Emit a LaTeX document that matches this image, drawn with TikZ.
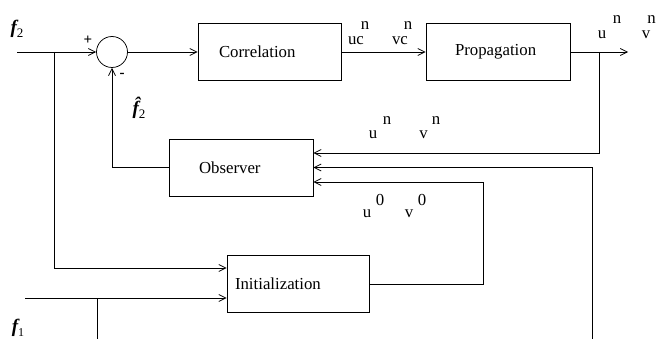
\documentclass[tikz,border=0pt]{standalone}
\usepackage{fontspec}
\setmainfont{Liberation Serif}
\usetikzlibrary{arrows.meta}
\newcommand{\sigf}{{\bfseries\itshape f}}
\newcommand{\sigfhat}{{\bfseries\itshape f^^^^0302}}
\begin{document}
\begin{tikzpicture}[x=1pt,y=-1pt, line width=0.75pt,
  font=\fontsize{16.8}{20}\selectfont,
  blk/.style={draw, minimum height=57pt, align=left},
  arr/.style={-{Straight Barb[length=7pt,width=7pt]}},
  lbl/.style={inner sep=0pt},
  sig/.style={inner sep=0pt, font=\fontsize{19}{20}\selectfont}]
\useasboundingbox (0,0) rectangle (656,339);
\clip (0,0) rectangle (656,339);

% blocks
\node[draw, circle, minimum size=31pt, inner sep=0pt] (sum) at (112,52) {};
\node[blk, inner xsep=21pt, text width=101pt] (corr) at (269.5,52) {Correlation};
\node[blk, inner xsep=29pt, text width=86pt] (prop) at (498,52) {Propagation};
\node[blk, inner xsep=30pt, text width=84pt] (obs) at (241,167.5) {Observer};
\node[blk, inner xsep=8pt, text width=126pt] (init) at (298,284) {Initialization};

% helper points
\coordinate (f2in) at (17,52);
\coordinate (f2br) at (54,52);
\coordinate (f1in) at (25,298);
\coordinate (f1br) at (97,298);
\coordinate (f1end) at (97,339);
\coordinate (out) at (628,52);
\coordinate (outbr) at (599,52);
\coordinate (fbA) at (599,153);
\coordinate (fbB) at (592,339);
\coordinate (fbC) at (483,182);

% forward path
\draw[arr] (f2in) -- (sum.west);
\draw[arr] (sum.east) -- (corr.west);
\draw[arr] (corr.east) -- (prop.west);
\draw[arr] (prop.east) -- (out);

% observer inputs
\draw[arr] (outbr) -- (fbA) -- ([yshift=14.5pt]obs.east);
\draw[arr] (fbB) |- (obs.east);
\draw[arr] (init.east) -| (fbC) -- ([yshift=-14.5pt]obs.east);

% estimate fed back to the summing junction
\draw[arr] (obs.west) -| (sum.south);

% initialization inputs
\draw[arr] (f2br) |- ([yshift=16pt]init.west);
\draw[arr] (f1in) -- ([yshift=-14pt]init.west);
\draw (f1br) -- (f1end);

% signal labels
\node[sig] (lf2) at (17,29) {\sigf\raisebox{-4pt}{\fontsize{13}{13}\selectfont 2}};
\node[sig] (lf1) at (18,328) {\sigf\raisebox{-4pt}{\fontsize{12}{12}\selectfont 1}};
\node[sig] (lf2h) at (139,108) {\sigfhat\raisebox{-4pt}{\fontsize{13}{13}\selectfont 2}};
\node[lbl, font=\fontsize{15}{15}\selectfont\bfseries] (plus) at (88,40) {+};
\node[lbl, font=\fontsize{15}{15}\selectfont\bfseries] (minus) at (122,75) {-};

\node[lbl] (uc) at (356,41) {uc};
\node[lbl] (ucn) at (365,26) {n};
\node[lbl] (vc) at (400,41) {vc};
\node[lbl] (vcn) at (408,26) {n};

\node[lbl] (uo) at (602,35) {u};
\node[lbl] (uon) at (617,20) {n};
\node[lbl] (vo) at (646,35) {v};
\node[lbl] (von) at (651.5,20) {n};

\node[lbl] (un) at (373,135) {u};
\node[lbl] (unn) at (387,121) {n};
\node[lbl] (vn) at (423.5,135) {v};
\node[lbl] (vnn) at (436,121) {n};

\node[lbl] (u0) at (367,214) {u};
\node[lbl] (u0s) at (380,199.5) {0};
\node[lbl] (v0) at (409,214) {v};
\node[lbl] (v0s) at (422,199.5) {0};
\end{tikzpicture}
\end{document}
